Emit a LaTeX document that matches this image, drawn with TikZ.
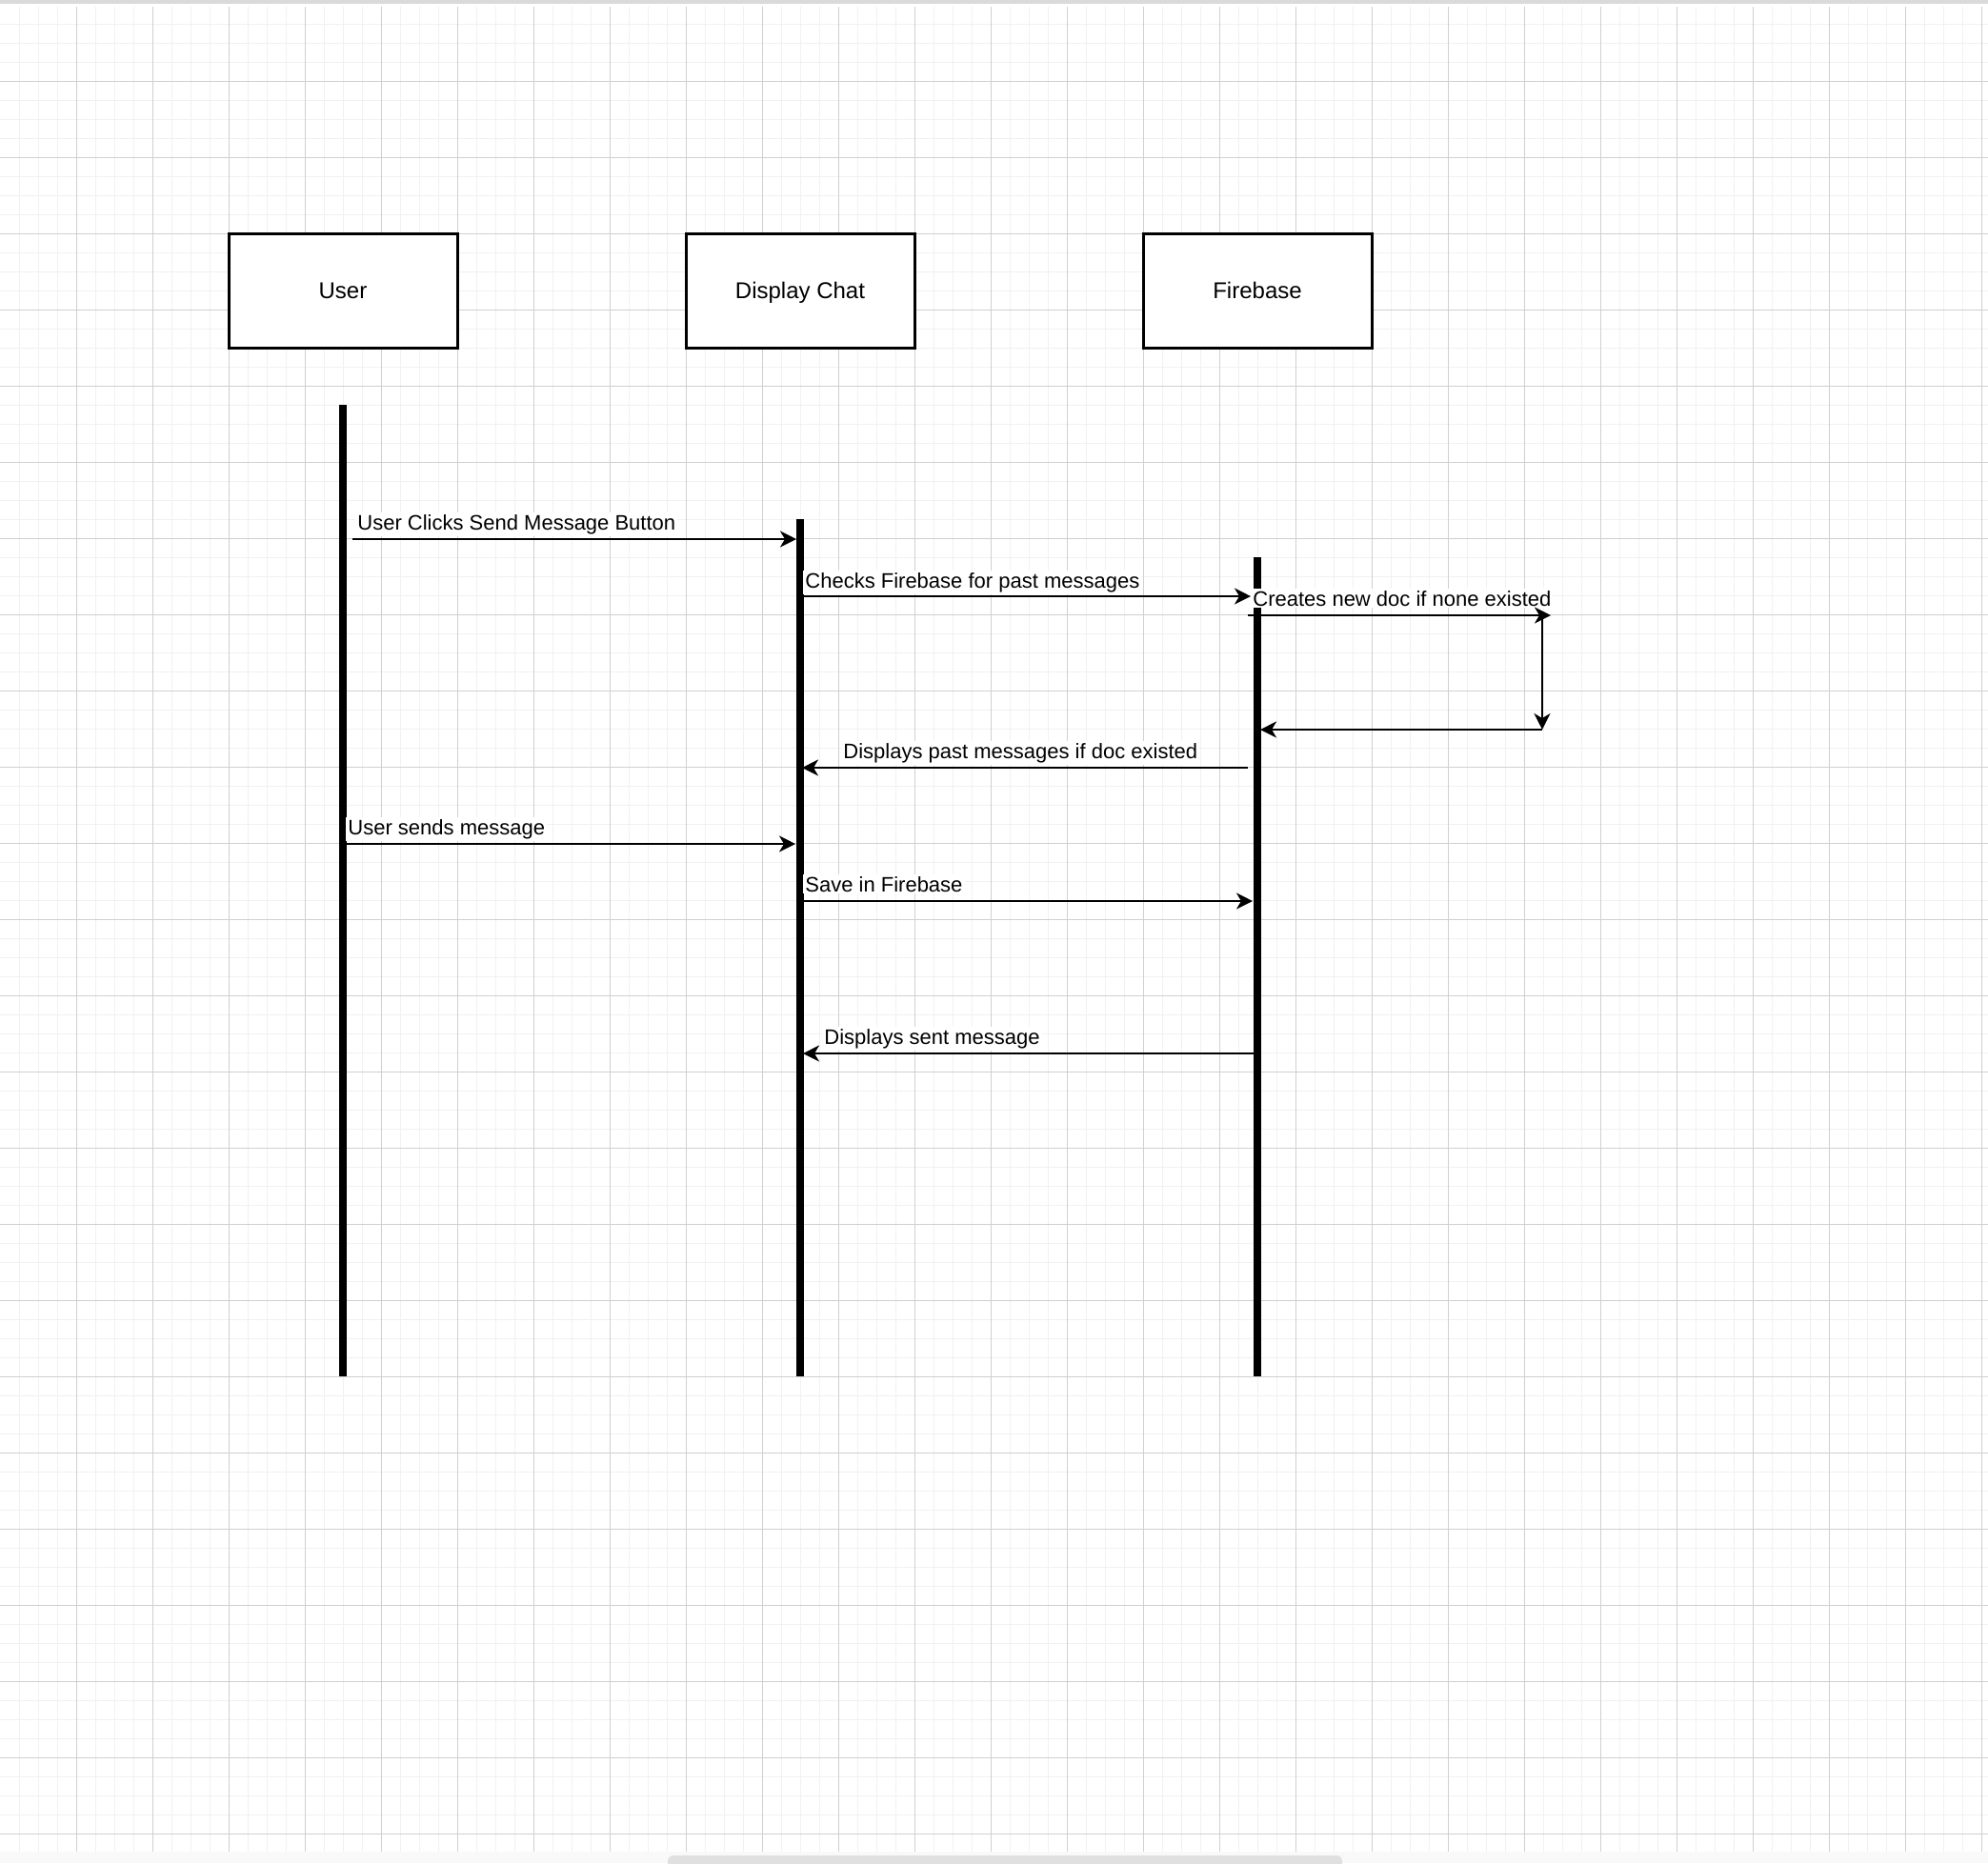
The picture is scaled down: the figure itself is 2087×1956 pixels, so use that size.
\documentclass[tikz,border=0pt]{standalone}
\usepackage{fontspec}
\setmainfont{Liberation Sans}
\usetikzlibrary{arrows.meta}
\definecolor{gridmajor}{RGB}{208,208,208}
\definecolor{gridminor}{RGB}{241,241,241}
\definecolor{topbar}{RGB}{218,218,218}
\definecolor{scrollbg}{RGB}{249,249,249}
\definecolor{scrollbar}{RGB}{224,224,224}

\begin{document}
\begin{tikzpicture}[x=0.5pt,y=0.5pt,yscale=-1,xscale=1,
  actor/.style={draw,line width=1.5pt,fill=white,minimum width=120pt,minimum height=60pt,inner sep=0pt,text height=8.6pt,text depth=0pt,font=\fontsize{12}{14}\selectfont},
  lifeline/.style={line width=4pt},
  msg/.style={line width=1.1pt,-{Stealth[length=8.5pt,width=8.5pt,inset=2.5pt]}},
  lbl/.style={anchor=base west,fill=white,inner sep=1pt,font=\fontsize{11}{13}\selectfont}]
\useasboundingbox (0,0) rectangle (2087,1956);
\fill[white] (0,0) rectangle (2087,1956);

%Grid
\foreach \gx in {20,40,...,2080} \draw[gridminor,line width=0.5pt] (\gx,7) -- (\gx,1944);
\foreach \gy in {25,45,...,1925} \draw[gridminor,line width=0.5pt] (0,\gy) -- (2087,\gy);
\foreach \gx in {80,160,...,2080} \draw[gridmajor,line width=0.5pt] (\gx,7) -- (\gx,1944);
\foreach \gy in {85,165,...,1925} \draw[gridmajor,line width=0.5pt] (0,\gy) -- (2087,\gy);
\fill[topbar] (0,0) rectangle (2087,4);
\fill[scrollbg] (0,1944) rectangle (2087,1956);
\fill[scrollbar,rounded corners=3pt] (701,1948) rectangle (1409,1962);

%Shape: Rectangle
\node[actor] (user) at (360,305) {User};
%Shape: Rectangle
\node[actor] (chat) at (840,305) {Display Chat};
%Shape: Rectangle
\node[actor] (fb) at (1320,305) {Firebase};

%Lifelines
\coordinate (userTop) at (360,425);
\coordinate (userBot) at (360,1445);
\coordinate (chatTop) at (840,545);
\coordinate (chatBot) at (840,1445);
\coordinate (fbTop) at (1320,585);
\coordinate (fbBot) at (1320,1445);
\draw[lifeline] (userTop) -- (userBot);
\draw[lifeline] (chatTop) -- (chatBot);
\draw[lifeline] (fbTop) -- (fbBot);

%Message ends
\coordinate (m1a) at (370,566);   \coordinate (m1b) at (836,566);
\coordinate (m2a) at (842,626);   \coordinate (m2b) at (1313,626);
\coordinate (m3a) at (1310,646);  \coordinate (m3b) at (1628,646);
\coordinate (m3c) at (1619,646);  \coordinate (m3d) at (1619,766);
\coordinate (m3e) at (1323,766);
\coordinate (m4a) at (1310,806);  \coordinate (m4b) at (842,806);
\coordinate (m5a) at (362,886);   \coordinate (m5b) at (835,886);
\coordinate (m6a) at (842,946);   \coordinate (m6b) at (1315,946);
\coordinate (m7a) at (1317,1106); \coordinate (m7b) at (843,1106);

% Text Node
\node[lbl] (t1) at (373,556) {User Clicks Send Message Button};
% Text Node
\node[lbl] (t2) at (843,617) {Checks Firebase for past messages};
% Text Node
\node[lbl] (t3) at (1313,636) {Creates new doc if none existed};
% Text Node
\node[lbl] (t4) at (883,796) {Displays past messages if doc existed};
% Text Node
\node[lbl] (t5) at (363,876) {User sends message};
% Text Node
\node[lbl] (t6) at (843,936) {Save in Firebase};
% Text Node
\node[lbl] (t7) at (863,1096) {Displays sent message};

%Straight Lines
\draw[msg] (m1a) -- (m1b);
\draw[msg] (m2a) -- (m2b);
\draw[msg] (m3a) -- (m3b);
\draw[msg] (m3c) -- (m3d);
\draw[msg] (m3d) -- (m3e);
\draw[msg] (m4a) -- (m4b);
\draw[msg] (m5a) -- (m5b);
\draw[msg] (m6a) -- (m6b);
\draw[msg] (m7a) -- (m7b);

\end{tikzpicture}
\end{document}
